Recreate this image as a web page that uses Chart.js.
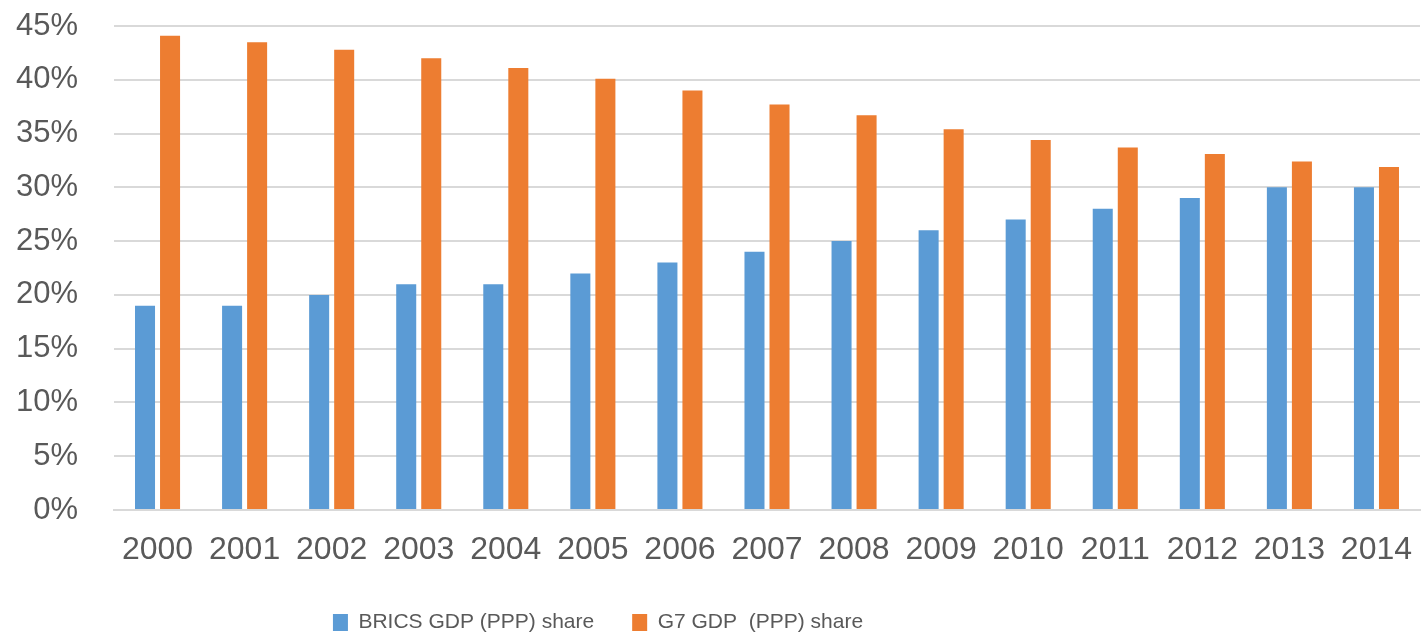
<!DOCTYPE html>
<html>
<head>
<meta charset="utf-8">
<script src="https://cdn.jsdelivr.net/npm/chart.js@4.4.1/dist/chart.umd.min.js"></script>
<style>
    html, body { margin: 0; padding: 0; background: #fff; }
    #wrap { width: 1422px; height: 639px; }
</style>
</head>
<body>
<div id="wrap"><canvas id="chart" width="1422" height="639"></canvas></div>
<script>
// data
const years = ['2000', '2001', '2002', '2003', '2004', '2005', '2006', '2007',
    '2008', '2009', '2010', '2011', '2012', '2013', '2014'];
const bricsShare = [19, 19, 20, 21, 21, 22, 23, 24, 25, 26, 27, 28, 29, 30, 30];
const g7Share = [44.1, 43.5, 42.8, 42.0, 41.1, 40.1, 39.0, 37.7, 36.7, 35.4, 34.4, 33.7, 33.1, 32.4, 31.9];
const seriesNames = ['BRICS GDP (PPP) share', 'G7 GDP  (PPP) share'];

const textColor = '#595959';
const gridColor = '#d9d9d9';

// move the legend a bit left and down, like the original
const legendShift = {
    id: 'legendShift',
    afterLayout(chart) {
        if (chart.legend) {
            chart.legend.left -= 112;
            chart.legend.right -= 112;
            chart.legend.top += 4;
            chart.legend.bottom += 4;
        }
    }
};

new Chart(document.getElementById('chart'), {
    type: 'bar',
    data: {
        labels: years,
        datasets: [
            {
                label: seriesNames[0],
                data: bricsShare,
                backgroundColor: '#5b9bd5',
                categoryPercentage: 0.575,
                barPercentage: 0.8
            },
            {
                label: seriesNames[1],
                data: g7Share,
                backgroundColor: '#ed7d31',
                categoryPercentage: 0.575,
                barPercentage: 0.8
            }
        ]
    },
    options: {
        responsive: false,
        animation: false,
        layout: { padding: { top: 26, left: 0, right: 2, bottom: 0 } },
        plugins: {
            legend: {
                position: 'bottom',
                labels: {
                    color: textColor,
                    font: { family: "'Liberation Sans', Arial, sans-serif", size: 21 },
                    boxWidth: 15,
                    boxHeight: 17,
                    padding: 38
                }
            },
            tooltip: { enabled: false }
        },
        scales: {
            x: {
                grid: { display: false },
                border: { display: true, color: gridColor, width: 2 },
                ticks: {
                    color: textColor,
                    font: { family: "'Liberation Sans', Arial, sans-serif", size: 32 },
                    padding: 13,
                    maxRotation: 0,
                    autoSkip: false
                },
                afterFit(scale) {
                    scale.height = 60;
                    scale.paddingLeft = 0;
                    scale.paddingRight = 0;
                }
            },
            y: {
                min: 0,
                max: 45,
                grid: { color: gridColor, lineWidth: 2, drawTicks: false },
                border: { display: false },
                ticks: {
                    stepSize: 5,
                    color: textColor,
                    font: { family: "'Liberation Sans', Arial, sans-serif", size: 31 },
                    padding: 36,
                    callback: v => v + '%'
                },
                afterFit(scale) {
                    scale.width = 114;
                    scale.paddingTop = 0;
                    scale.paddingBottom = 0;
                }
            }
        }
    },
    plugins: [legendShift]
});
</script>
</body>
</html>
